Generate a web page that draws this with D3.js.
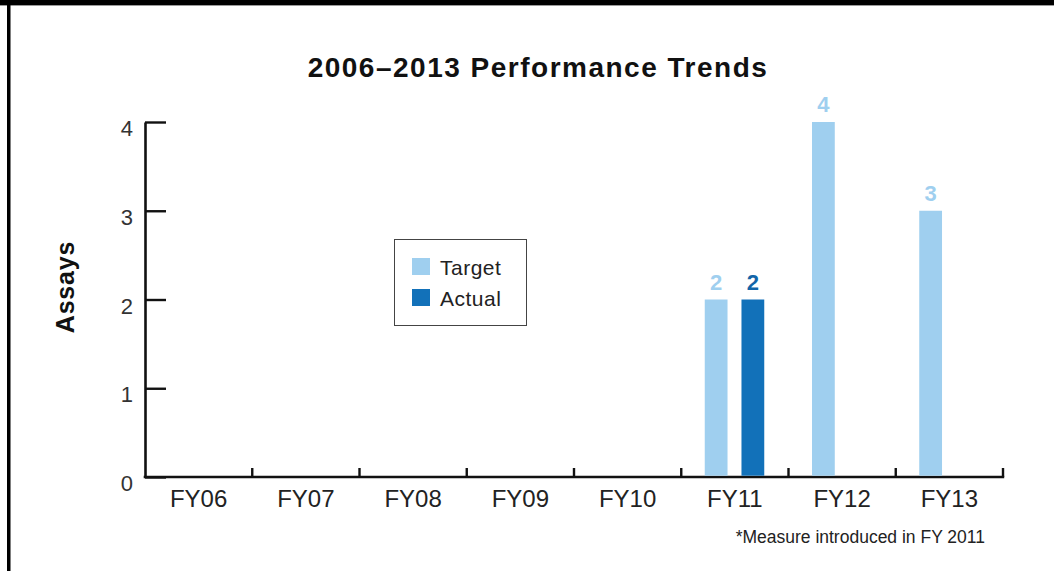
<!DOCTYPE html>
<html>
<head>
<meta charset="utf-8">
<script src="https://cdn.jsdelivr.net/npm/d3@7"></script>
<style>
  html, body { margin: 0; padding: 0; background: #fff; }
  svg { display: block; font-family: "Liberation Sans", Arial, Helvetica, sans-serif; }
</style>
</head>
<body>
<svg id="chart" width="1054" height="571"></svg>
<script>
// Fiscal years shown on the x axis
const categories = ["FY06", "FY07", "FY08", "FY09", "FY10", "FY11", "FY12", "FY13"];
// Series names, drawn side by side inside each year
const seriesNames = ["Target", "Actual"];
// Assay counts per year (null = no measure that year)
const targetValues = [null, null, null, null, null, 2, 4, 3];
const actualValues = [null, null, null, null, null, 2, null, null];
// Y axis tick values
const yTicks = [0, 1, 2, 3, 4];

const colors = { Target: "#9fcfef", Actual: "#1271b9" };
const labelColors = { Target: "#9fcfef", Actual: "#1265a8" };

const svg = d3.select("#chart");
const W = 1054, H = 571;

// Frame: top bar and left rule
svg.append("rect").attr("x", 0).attr("y", 0).attr("width", W).attr("height", 5).attr("fill", "#000");
svg.append("rect").attr("x", 0).attr("y", 5).attr("width", W).attr("height", 1).attr("fill", "#9a9a9a");
svg.append("rect").attr("x", 7).attr("y", 5).attr("width", 3.5).attr("height", H).attr("fill", "#000");

const plotLeft = 145, plotRight = 1003, plotTop = 122, plotBottom = 477;

const x = d3.scaleBand().domain(categories).range([plotLeft, plotRight]).padding(0);
const x1 = d3.scaleBand().domain(seriesNames).range([23.5, 83]).paddingInner(0.38).paddingOuter(0);
const y = d3.scaleLinear().domain([0, 4]).range([plotBottom, plotTop]);

// Title
svg.append("text")
  .attr("x", 538).attr("y", 77)
  .attr("text-anchor", "middle")
  .attr("font-size", 28).attr("font-weight", "bold").attr("fill", "#111")
  .attr("letter-spacing", 1.5)
  .text("2006\u20132013 Performance Trends");

// Y axis title
svg.append("text")
  .attr("transform", "translate(74,287) rotate(-90)")
  .attr("text-anchor", "middle")
  .attr("font-size", 25).attr("font-weight", "bold").attr("fill", "#111")
  .attr("letter-spacing", 0.8)
  .text("Assays");

// Y axis: ticks point into the plot
const yAxis = svg.append("g")
  .attr("transform", `translate(${plotLeft},0)`)
  .call(d3.axisLeft(y).tickValues(yTicks).tickFormat(d3.format("d")).tickSizeInner(-21).tickSizeOuter(0).tickPadding(12));
yAxis.select(".domain").attr("stroke", "#111").attr("stroke-width", 2.6);
yAxis.selectAll(".tick line").attr("stroke", "#111").attr("stroke-width", 2.4);
yAxis.selectAll(".tick text")
  .attr("font-size", 22).attr("fill", "#333").attr("dy", "0.62em")
  .attr("font-family", "\"Liberation Sans\", Arial, sans-serif");

// X axis: labels at band centres, short ticks at band boundaries
const xAxis = svg.append("g")
  .attr("transform", `translate(0,${plotBottom})`)
  .call(d3.axisBottom(x).tickSize(0).tickPadding(13));
xAxis.select(".domain").remove();
xAxis.selectAll(".tick text")
  .attr("font-size", 24).attr("fill", "#222").attr("dy", "0.7em")
  .attr("font-family", "\"Liberation Sans\", Arial, sans-serif");

svg.append("line")
  .attr("x1", plotLeft - 1.3).attr("x2", plotRight + 1.2)
  .attr("y1", plotBottom).attr("y2", plotBottom)
  .attr("stroke", "#111").attr("stroke-width", 2.6);

const boundaries = categories.slice(1).map(d => x(d)).concat([x.range()[1]]);
svg.append("g").selectAll("line")
  .data(boundaries)
  .join("line")
  .attr("x1", d => d).attr("x2", d => d)
  .attr("y1", plotBottom).attr("y2", plotBottom - 9)
  .attr("stroke", "#111").attr("stroke-width", 2.4);

// Bars and value labels
const rows = [];
categories.forEach((c, i) => {
  if (targetValues[i] != null) rows.push({ cat: c, series: "Target", value: targetValues[i] });
  if (actualValues[i] != null) rows.push({ cat: c, series: "Actual", value: actualValues[i] });
});

const barG = svg.append("g");
barG.selectAll("rect")
  .data(rows)
  .join("rect")
  .attr("x", d => x(d.cat) + x1(d.series))
  .attr("width", x1.bandwidth())
  .attr("y", d => y(d.value))
  .attr("height", d => y(0) - y(d.value) - 1.3)
  .attr("fill", d => colors[d.series]);

barG.selectAll("text")
  .data(rows)
  .join("text")
  .attr("x", d => x(d.cat) + x1(d.series) + x1.bandwidth() / 2)
  .attr("y", d => y(d.value) - 10)
  .attr("text-anchor", "middle")
  .attr("font-size", 22).attr("font-weight", "bold")
  .attr("fill", d => labelColors[d.series])
  .text(d => d.value);

// Legend
const legend = svg.append("g");
legend.append("rect")
  .attr("x", 394.5).attr("y", 239.5).attr("width", 132).attr("height", 86)
  .attr("fill", "#fff").attr("stroke", "#444").attr("stroke-width", 1);
seriesNames.forEach((s, i) => {
  const yy = 258 + i * 31;
  legend.append("rect").attr("x", 412).attr("y", yy).attr("width", 18).attr("height", 17).attr("fill", colors[s]);
  legend.append("text").attr("x", 440).attr("y", yy + 17)
    .attr("font-size", 21).attr("letter-spacing", 0.5).attr("fill", "#222").text(s);
});

// Footnote
svg.append("text")
  .attr("x", 985).attr("y", 543)
  .attr("text-anchor", "end")
  .attr("font-size", 17.5).attr("fill", "#222")
  .text("*Measure introduced in FY 2011");
</script>
</body>
</html>
